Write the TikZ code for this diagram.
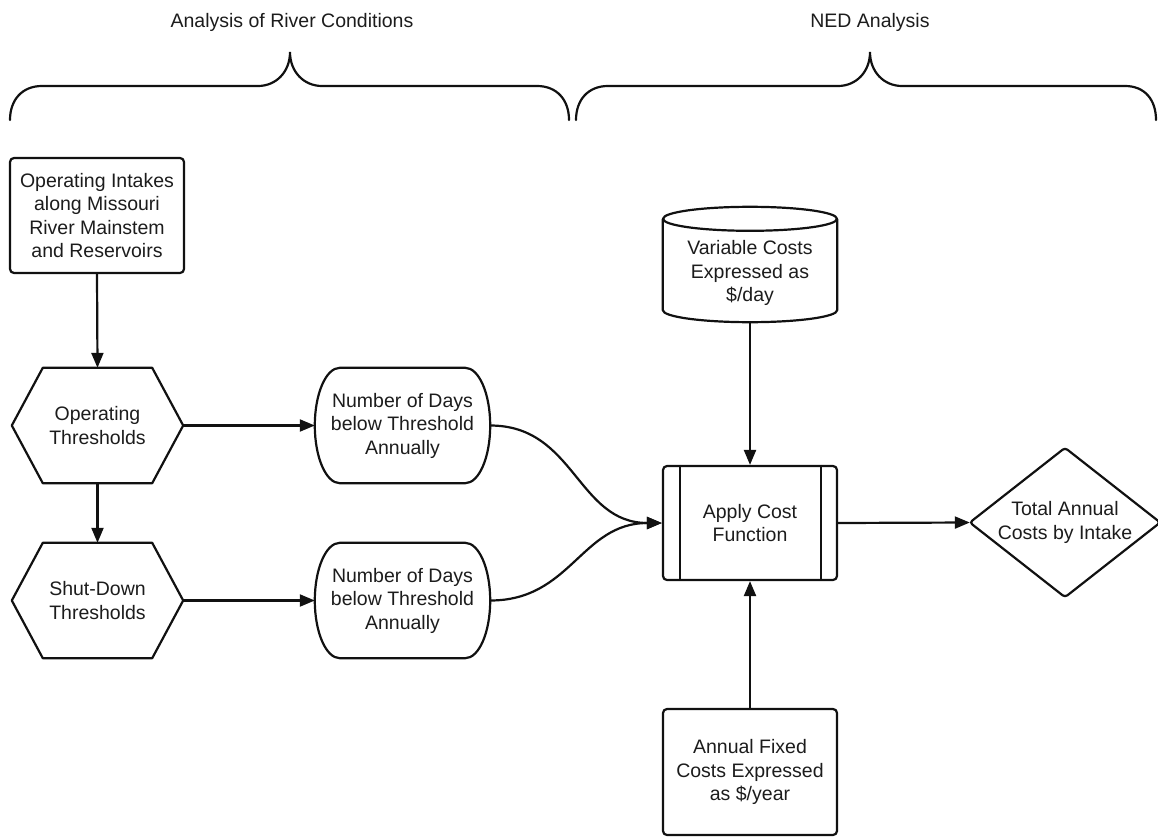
\documentclass[tikz,border=0pt]{standalone}
\usepackage{fontspec}
\setmainfont{Liberation Sans}
\usetikzlibrary{calc,arrows.meta}

\definecolor{ink}{HTML}{111111}
\definecolor{txt}{HTML}{1c1c1c}

% outline helpers: each draws a shape around the bounding box of a named node
\newcommand\hexoutline[1]{%
  \draw[outline] (#1.west) -- ($(#1.north west)+(31,0)$) -- ($(#1.north east)+(-31,0)$)
    -- (#1.east) -- ($(#1.south east)+(-31,0)$) -- ($(#1.south west)+(31,0)$) -- cycle;}
\newcommand\stadiumoutline[1]{%
  \draw[outline] ($(#1.north west)+(25,0)$) -- ($(#1.north east)+(-25,0)$)
    .. controls ($(#1.north east)+(-11.2,0)$) and ($(#1.east)+(0,-31.8)$) .. (#1.east)
    .. controls ($(#1.east)+(0,31.8)$) and ($(#1.south east)+(-11.2,0)$) .. ($(#1.south east)+(-25,0)$)
    -- ($(#1.south west)+(25,0)$)
    .. controls ($(#1.south west)+(11.2,0)$) and ($(#1.west)+(0,31.8)$) .. (#1.west)
    .. controls ($(#1.west)+(0,-31.8)$) and ($(#1.north west)+(11.2,0)$) .. ($(#1.north west)+(25,0)$)
    -- cycle;}
% drum: the node covers the body below the lid; the lid ellipse sits 5 units above it
\newcommand\drumoutline[1]{%
  \draw[outline] ($(#1.north)+(0,-5)$) ellipse [x radius=87pt, y radius=12pt];
  \draw[outline] ($(#1.north west)+(0,-5)$) -- ($(#1.south west)+(0,-12)$)
    .. controls ($(#1.south west)+(0,-5.4)$) and ($(#1.south)+(-48.1,0)$) .. (#1.south)
    .. controls ($(#1.south)+(48.1,0)$) and ($(#1.south east)+(0,-5.4)$) .. ($(#1.south east)+(0,-12)$)
    -- ($(#1.north east)+(0,-5)$);}
\newcommand\diamondoutline[1]{%
  \draw[outline, rounded corners=3pt] (#1.west) -- (#1.north) -- (#1.east) -- (#1.south) -- cycle;}

\begin{document}
\begin{tikzpicture}[x=1pt, y=-1pt,
    outline/.style={draw=ink, line width=2.2pt, line join=round},
    label/.style={text=txt, font=\fontsize{19.5}{23.5}\selectfont, align=center, inner sep=0pt},
    boxed/.style={label, outline, rounded corners=4pt, minimum width=174pt, minimum height=115pt},
    frame/.style={label, minimum width=#1, minimum height=115pt},
    link/.style={draw=ink, line width=2.2pt, -{Triangle[length=15pt, width=12pt]}},
    brace/.style={draw=ink, line width=2.2pt, line cap=round}]

  \useasboundingbox (0,0) rectangle (1158,837);

  % section headings with their braces
  \node[label] (hdrriver) at (292,22) {Analysis of River Conditions};
  \node[label] (hdrned) at (870,22) {NED Analysis};
  \draw[brace] (10,120) .. controls (10,100) and (22,86) .. (42,86) -- (258,86)
    .. controls (276,86) and (290,72) .. (290,52)
    .. controls (290,72) and (304,86) .. (322,86) -- (537,86)
    .. controls (557,86) and (569,100) .. (569,120);
  \draw[brace] (576,120) .. controls (576,100) and (588,86) .. (608,86) -- (838,86)
    .. controls (856,86) and (870,72) .. (870,52)
    .. controls (870,72) and (884,86) .. (902,86) -- (1125,86)
    .. controls (1145,86) and (1156,100) .. (1156,120);

  % river-condition side
  \node[boxed] (intake) at (97,215.5) {Operating Intakes\\along Missouri\\River Mainstem\\and Reservoirs};
  \node[frame=171pt] (opth) at (97.5,425.5) {Operating\\Thresholds};
  \node[frame=171pt] (shut) at (97.5,600.5) {Shut-Down\\Thresholds};
  \node[frame=175pt] (days1) at (402.5,425.5) {Number of Days\\below Threshold\\Annually};
  \node[frame=175pt] (days2) at (402.5,600.5) {Number of Days\\below Threshold\\Annually};
  \hexoutline{opth}
  \hexoutline{shut}
  \stadiumoutline{days1}
  \stadiumoutline{days2}

  % NED side
  \node[label, minimum width=174pt, minimum height=98pt] (varc) at (750,273) {Variable Costs\\Expressed as\\\$/day};
  \drumoutline{varc}
  \node[boxed, minimum height=114pt] (apply) at (750,523) {Apply Cost\\Function};
  \draw[outline] ($(apply.north west)+(18,0)$) -- ($(apply.south west)+(18,0)$);
  \draw[outline] ($(apply.north east)+(-17,0)$) -- ($(apply.south east)+(-17,0)$);
  \node[label, minimum width=190pt, minimum height=149pt] (total) at (1065,522.5) {Total Annual\\Costs by Intake};
  \diamondoutline{total}
  \node[boxed, minimum height=126pt] (fixed) at (750,772) {Annual Fixed\\Costs Expressed\\as \$/year};

  % connectors
  \draw[link] (intake.south) -- (opth.north);
  \draw[link] (opth.south) -- (shut.north);
  \draw[link] (opth.east) -- (days1.west);
  \draw[link] (shut.east) -- (days2.west);
  \draw[link] (days1.east) to[out=0, in=180, looseness=1.1] (apply.west);
  \draw[link] (days2.east) to[out=0, in=180, looseness=1.1] (apply.west);
  \draw[link] (varc.south) -- (apply.north);
  \draw[link] (fixed.north) -- (apply.south);
  \draw[link] (apply.east) -- (total.west);
\end{tikzpicture}
\end{document}
